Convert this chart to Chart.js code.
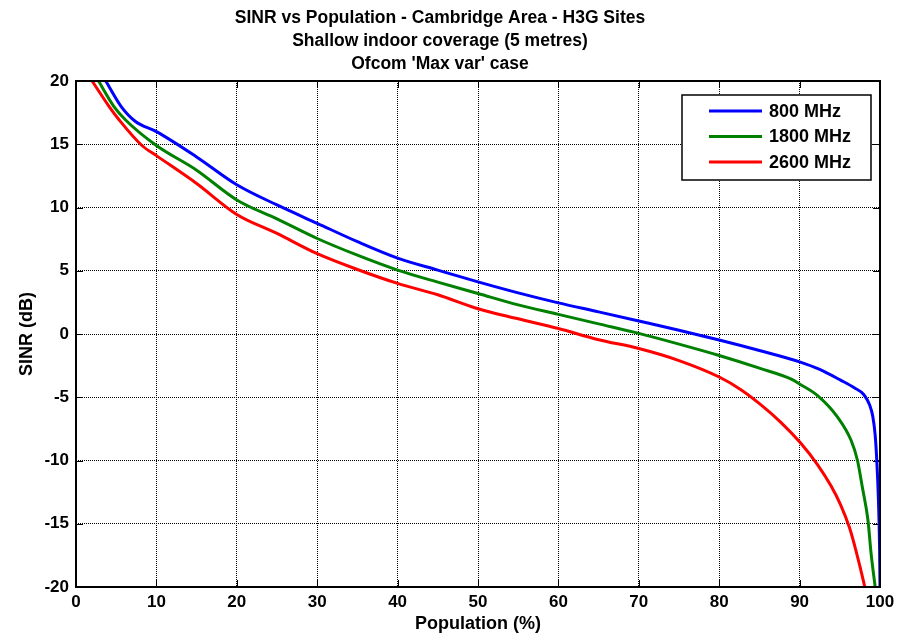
<!DOCTYPE html>
<html>
<head>
<meta charset="utf-8">
<script src="https://cdn.jsdelivr.net/npm/chart.js@4.4.0/dist/chart.umd.min.js"></script>
<style>
  html, body { margin: 0; padding: 0; background: #fff; }
  #c { display: block; }
</style>
</head>
<body>
<canvas id="c" width="897" height="641"></canvas>
<script>
// chart text
const titleLines = [
    'SINR vs Population - Cambridge Area - H3G Sites',
    'Shallow indoor coverage (5 metres)',
    "Ofcom 'Max var' case"
];
const xAxisTitle = 'Population (%)';
const yAxisTitle = 'SINR (dB)';

// series (population %, SINR dB)
const pop800 = [3.7, 5.6, 7.4, 10, 15, 20, 25, 30, 35, 40, 45, 50, 55, 60, 65, 70, 75, 80, 85, 90, 92.5, 95.1, 96.8, 98.0, 98.7, 99.1, 99.4, 99.6, 99.8, 99.95, 100];
const sinr800 = [20, 18.0, 16.8, 16.0, 14.0, 11.8, 10.2, 8.75, 7.3, 6.0, 5.05, 4.12, 3.25, 2.46, 1.75, 1.03, 0.3, -0.47, -1.3, -2.2, -2.8, -3.65, -4.25, -4.8, -5.6, -6.5, -8.0, -10.0, -13.0, -17.0, -20];

const pop1800 = [2.8, 4.7, 6.2, 10, 15, 20, 25, 30, 35, 40, 45, 50, 55, 60, 65, 70, 75, 80, 85, 88.9, 90, 92.2, 94.7, 96.4, 97.2, 97.8, 98.5, 98.9, 99.4];
const sinr1800 = [20, 18.0, 16.9, 14.9, 12.95, 10.6, 9.1, 7.55, 6.23, 5.05, 4.1, 3.2, 2.3, 1.55, 0.8, 0.05, -0.8, -1.7, -2.7, -3.55, -3.95, -4.85, -6.55, -8.4, -10.0, -12.1, -14.7, -17.4, -20];

const pop2600 = [2.0, 4.1, 5.4, 8.2, 10, 15, 20, 25, 30, 35, 40, 45, 50, 55, 60, 65, 70, 75, 80, 82.7, 85.2, 87.7, 90.1, 92.2, 93.9, 95.1, 96.2, 97.0, 98.0, 98.1];
const sinr2600 = [20, 18.0, 16.9, 14.9, 14.1, 11.9, 9.45, 7.95, 6.35, 5.1, 4.0, 3.1, 2.0, 1.2, 0.43, -0.45, -1.15, -2.1, -3.4, -4.4, -5.6, -7.0, -8.6, -10.3, -12.0, -13.5, -15.3, -17.1, -19.7, -20];

const seriesLabels = ['800 MHz', '1800 MHz', '2600 MHz'];
const seriesColors = ['#0000ff', '#008000', '#ff0000'];

const xMin = 0, xMax = 100, xStep = 10;
const yMin = -20, yMax = 20, yStep = 5;

const fontName = '"Liberation Sans", Arial, sans-serif';
const tickFont = { family: fontName, weight: 'bold', size: 17 };

function toPoints(xs, ys) {
    return xs.map((x, i) => ({ x: x, y: ys[i] }));
}

// title, axis titles, box, inward ticks and legend drawn MATLAB style
const matlabDecor = {
    id: 'matlabDecor',
    beforeDatasetsDraw(chart) {
        const { ctx, chartArea: a, scales } = chart;
        ctx.save();
        ctx.strokeStyle = '#000';
        ctx.lineWidth = 1;
        ctx.beginPath();
        scales.x.ticks.forEach(t => {
            const px = Math.round(scales.x.getPixelForValue(t.value)) + 0.5;
            ctx.moveTo(px, a.top); ctx.lineTo(px, a.top + 7);
            ctx.moveTo(px, a.bottom); ctx.lineTo(px, a.bottom - 7);
        });
        scales.y.ticks.forEach(t => {
            const py = Math.round(scales.y.getPixelForValue(t.value)) + 0.5;
            ctx.moveTo(a.left, py); ctx.lineTo(a.left + 7, py);
            ctx.moveTo(a.right, py); ctx.lineTo(a.right - 7, py);
        });
        ctx.stroke();
        ctx.restore();
    },
    afterDatasetsDraw(chart) {
        const { ctx, chartArea: a } = chart;
        ctx.save();
        // frame
        ctx.strokeStyle = '#000';
        ctx.lineWidth = 2;
        ctx.strokeRect(a.left, a.top, a.right - a.left, a.bottom - a.top);

        // legend
        const lw = 189, lh = 85;
        const lx = a.right - 9 - lw, ly = a.top + 14;
        ctx.fillStyle = '#fff';
        ctx.fillRect(lx, ly, lw, lh);
        ctx.lineWidth = 1.5;
        ctx.strokeRect(lx, ly, lw, lh);
        ctx.font = 'bold 18px ' + fontName;
        ctx.textBaseline = 'middle';
        ctx.textAlign = 'left';
        chart.data.datasets.forEach((ds, i) => {
            const ry = ly + 16 + i * 25.5;
            ctx.strokeStyle = ds.borderColor;
            ctx.lineWidth = 3;
            ctx.beginPath();
            ctx.moveTo(lx + 27, ry); ctx.lineTo(lx + 80, ry);
            ctx.stroke();
            ctx.fillStyle = '#000';
            ctx.fillText(ds.label, lx + 87, ry + 1);
        });

        // title
        ctx.fillStyle = '#000';
        ctx.textAlign = 'center';
        ctx.font = 'bold 17.5px ' + fontName;
        titleLines.forEach((line, i) => ctx.fillText(line, 440, 18 + i * 23));

        // axis titles
        const cx = (a.left + a.right) / 2;
        ctx.font = 'bold 18px ' + fontName;
        ctx.fillText(xAxisTitle, cx, a.bottom + 37);
        ctx.translate(27, (a.top + a.bottom) / 2);
        ctx.rotate(-Math.PI / 2);
        ctx.fillText(yAxisTitle, 0, 0);
        ctx.restore();
    }
};

const ctx = document.getElementById('c').getContext('2d');
new Chart(ctx, {
    type: 'line',
    data: {
        datasets: [
            { label: seriesLabels[0], data: toPoints(pop800, sinr800), borderColor: seriesColors[0], order: 3 },
            { label: seriesLabels[1], data: toPoints(pop1800, sinr1800), borderColor: seriesColors[1], order: 2 },
            { label: seriesLabels[2], data: toPoints(pop2600, sinr2600), borderColor: seriesColors[2], order: 1 }
        ]
    },
    options: {
        responsive: false,
        animation: false,
        devicePixelRatio: 1,
        elements: {
            line: { borderWidth: 3, cubicInterpolationMode: 'monotone', fill: false, borderJoinStyle: 'round', borderCapStyle: 'round' },
            point: { radius: 0, hoverRadius: 0 }
        },
        layout: { padding: { top: 81, right: 17, bottom: 0, left: 0 } },
        scales: {
            x: {
                type: 'linear', min: xMin, max: xMax,
                afterFit: s => { s.height = 54; s.paddingRight = 0; s.paddingLeft = 0; },
                ticks: { stepSize: xStep, color: '#000', font: tickFont, padding: 5, maxRotation: 0 },
                grid: { color: '#000', lineWidth: 1, drawTicks: false },
                border: { display: false, dash: [1, 1] }
            },
            y: {
                type: 'linear', min: yMin, max: yMax,
                afterFit: s => { s.width = 76; },
                ticks: { stepSize: yStep, color: '#000', font: tickFont, padding: 7 },
                grid: { color: '#000', lineWidth: 1, drawTicks: false },
                border: { display: false, dash: [1, 1] }
            }
        },
        plugins: {
            legend: { display: false },
            tooltip: { enabled: false },
            title: { display: false }
        }
    },
    plugins: [matlabDecor]
});
</script>
</body>
</html>
